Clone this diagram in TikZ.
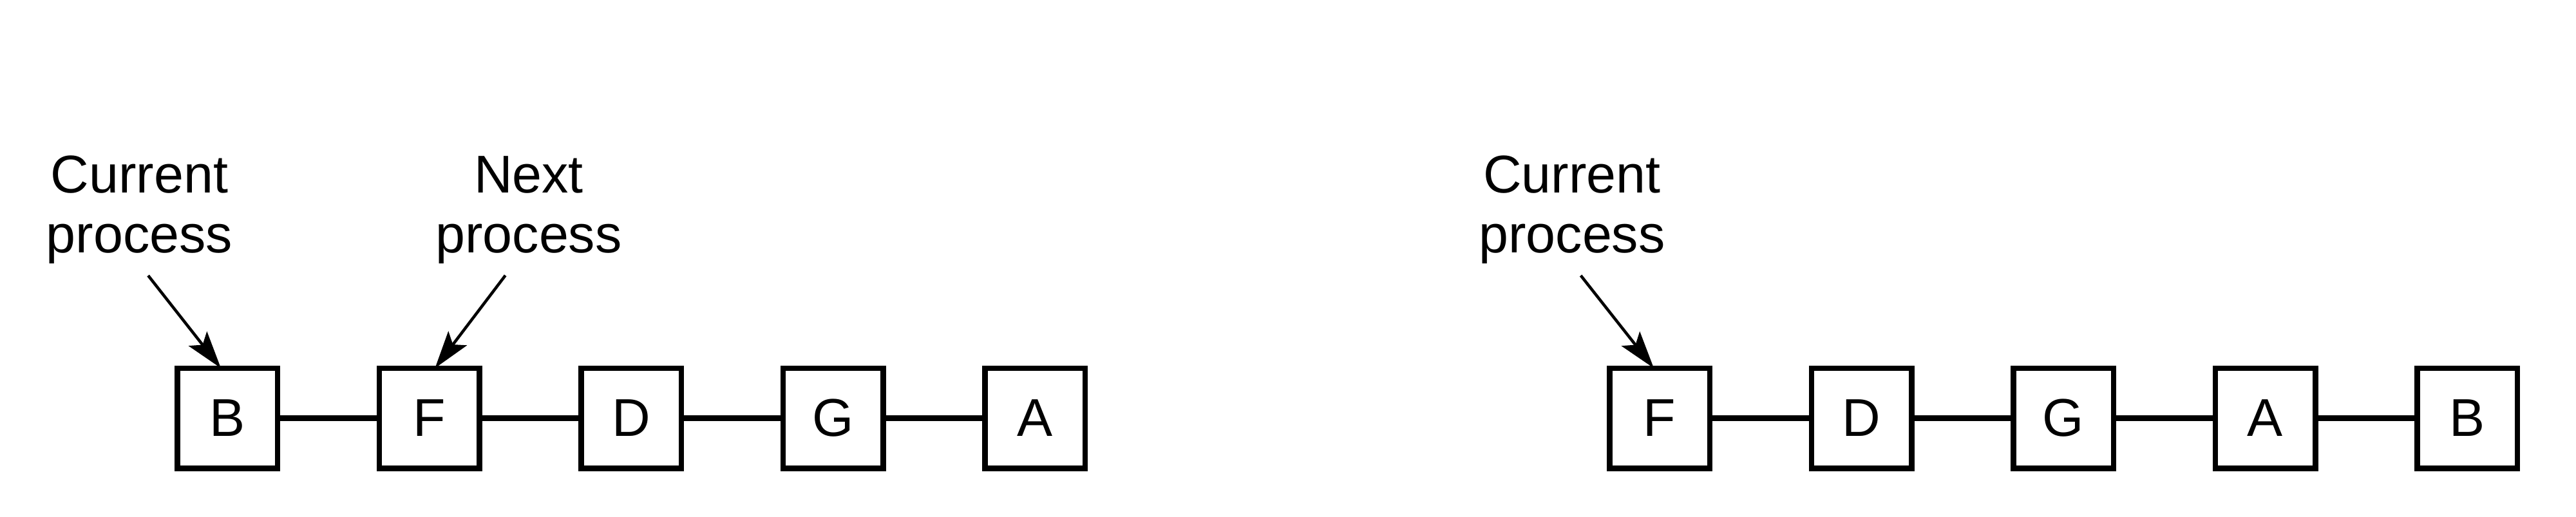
\documentclass[tikz,border=0pt]{standalone}
\usepackage{fontspec}
\setmainfont{Liberation Sans}
\usetikzlibrary{arrows.meta}

\tikzset{
  proc/.style={draw,line width=0.085cm,minimum size=1.555cm,inner sep=0pt,outer sep=0pt},
  lbl/.style={align=center,inner sep=0pt},
  link/.style={line width=0.085cm},
  ptr/.style={line width=0.045cm,shorten <=0.22cm,-{Stealth[length=0.58cm,width=0.36cm,inset=0.12cm]}}
}

\begin{document}
\begin{tikzpicture}[font=\fontsize{23.5}{26.5}\selectfont]
\useasboundingbox (0,0) rectangle (40,-8.02);
% list before the switch
\foreach \name/\x [count=\i] in {B/3.53,F/6.665,D/9.80,G/12.935,A/16.07}
  { \node[proc] (l\i) at (\x,-6.495) {\name}; }
% list after the switch
\foreach \name/\x [count=\i] in {F/25.77,D/28.905,G/32.04,A/35.175,B/38.31}
  { \node[proc] (r\i) at (\x,-6.495) {\name}; }
\foreach \i [evaluate=\i as \j using int(\i+1)] in {1,...,4}
  { \draw[link] (l\i) -- (l\j); \draw[link] (r\i) -- (r\j); }

\node[lbl] (curl) at (2.165,-3.26) {Current\\process};
\node[lbl] (nxtl) at (8.21,-3.26) {Next\\process};
\node[lbl] (curr) at (24.41,-3.26) {Current\\process};

\draw[ptr] (curl.south) -- ([xshift=-0.1cm]l1.north);
\draw[ptr] ([xshift=-0.23cm]nxtl.south) -- ([xshift=0.09cm]l2.north);
\draw[ptr] (curr.south) -- ([xshift=-0.09cm]r1.north);
\end{tikzpicture}
\end{document}
